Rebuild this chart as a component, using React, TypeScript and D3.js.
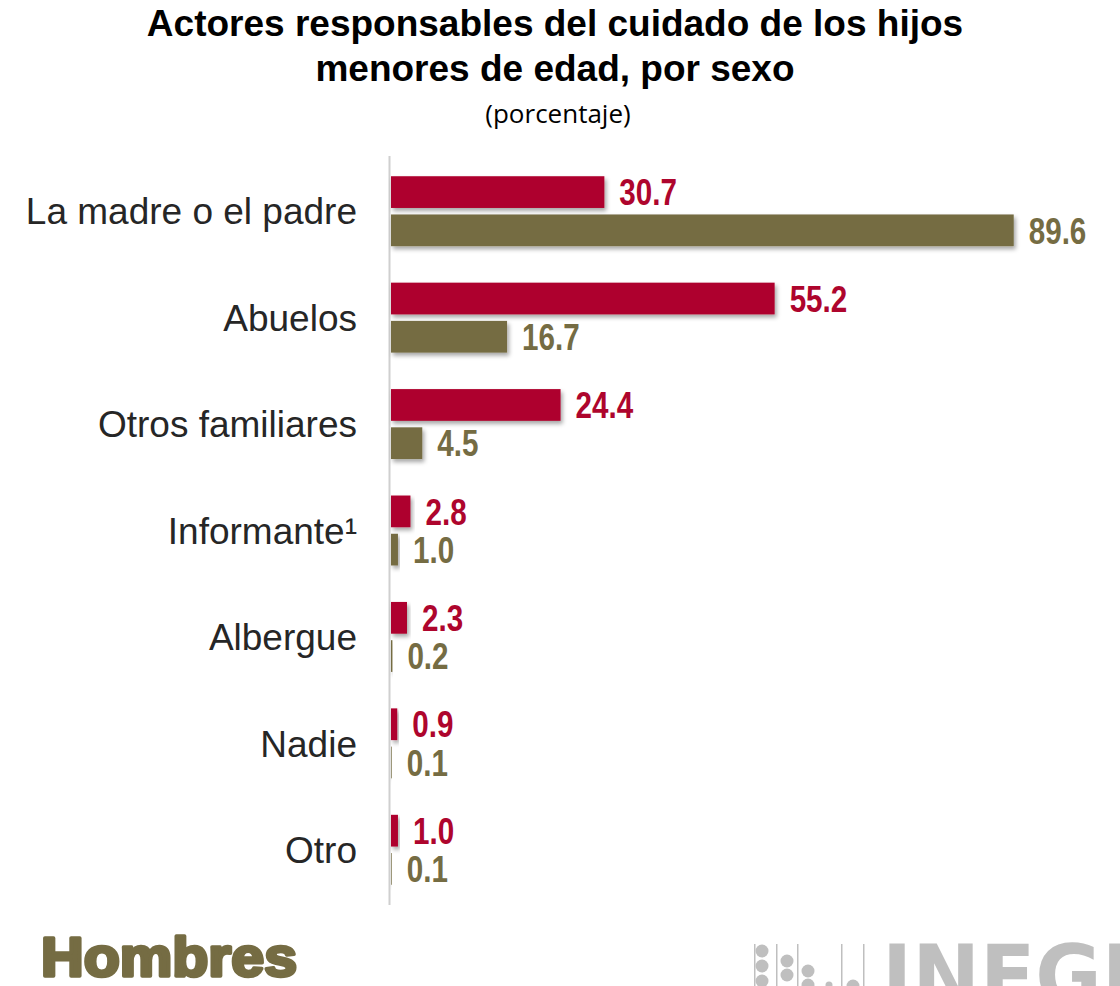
import * as d3 from "d3";

// Categorías y valores (porcentaje)
const categorias = [
  "La madre o el padre",
  "Abuelos",
  "Otros familiares",
  "Informante¹",
  "Albergue",
  "Nadie",
  "Otro",
];
const valoresRojo = [30.7, 55.2, 24.4, 2.8, 2.3, 0.9, 1.0];
const valoresOliva = [89.6, 16.7, 4.5, 1.0, 0.2, 0.1, 0.1];
const series = ["rojo", "oliva"];

const ROJO = "#ae052d";
const OLIVA = "#756c43";
const GRIS = "#bfbfbf";

const width = 1120;
const height = 986;

export default function App() {
  const y = d3
    .scaleBand<string>()
    .domain(categorias)
    .range([158, 903])
    .paddingInner(0.3427)
    .paddingOuter(0.1713);

  const ySub = d3
    .scaleBand<string>()
    .domain(series)
    .range([0, y.bandwidth()])
    .paddingInner(0.17);

  const x = d3.scaleLinear().domain([0, 100]).range([391, 1086]);

  const datos = categorias.map((c, i) => ({
    categoria: c,
    valores: [
      { serie: "rojo", valor: valoresRojo[i], color: ROJO },
      { serie: "oliva", valor: valoresOliva[i], color: OLIVA },
    ],
  }));

  const fmt = d3.format(".1f");

  return (
    <svg
      width={width}
      height={height}
      style={{ position: "absolute", left: 0, top: 0, background: "#fff" }}
    >
      <defs>
        <filter id="sombra" x="-10%" y="-30%" width="130%" height="180%">
          <feDropShadow dx="2" dy="3" stdDeviation="2" floodColor="#000" floodOpacity="0.35" />
        </filter>
      </defs>

      {/* Título */}
      <g fontFamily="'Liberation Sans', Arial, sans-serif" textAnchor="middle">
        <text x={555} y={36} fontSize={37} fontWeight="bold" fill="#000">
          Actores responsables del cuidado de los hijos
        </text>
        <text x={555} y={81} fontSize={37} fontWeight="bold" fill="#000">
          menores de edad, por sexo
        </text>
      </g>
      <text
        x={558}
        y={123}
        fontFamily="'Open Sans', sans-serif"
        fontSize={26}
        textAnchor="middle"
        fill="#000"
      >
        (porcentaje)
      </text>

      {/* Eje vertical */}
      <line x1={389.5} x2={389.5} y1={156} y2={905} stroke="#cfcfcf" strokeWidth={2} />

      {/* Etiquetas de categoría */}
      {datos.map((d) => (
        <text
          key={d.categoria}
          x={357}
          y={(y(d.categoria) ?? 0) + y.bandwidth() / 2 + 13.2}
          textAnchor="end"
          fontFamily="'Liberation Sans', Arial, sans-serif"
          fontSize={37}
          fill="#262626"
        >
          {d.categoria}
        </text>
      ))}

      {/* Barras */}
      {datos.map((d) => (
        <g key={d.categoria} transform={`translate(0,${y(d.categoria)})`}>
          {d.valores.map((v) => {
            const yy = ySub(v.serie) ?? 0;
            const w = x(v.valor) - x(0);
            return (
              <g key={v.serie}>
                <rect
                  x={x(0)}
                  y={yy}
                  width={w}
                  height={ySub.bandwidth()}
                  fill={v.color}
                  filter="url(#sombra)"
                />
                <text
                  transform={`translate(${x(v.valor) + 15},${yy + ySub.bandwidth() / 2 + 13.2}) scale(0.8,1)`}
                  fontFamily="'Liberation Sans', Arial, sans-serif"
                  fontWeight="bold"
                  fontSize={37}
                  fill={v.color}
                >
                  {fmt(v.valor)}
                </text>
              </g>
            );
          })}
        </g>
      ))}

      {/* Rótulo del panel */}
      <text
        x={41}
        y={976}
        fontFamily="'Liberation Sans', Arial, sans-serif"
        fontWeight="bold"
        fontSize={55}
        fill={OLIVA}
        stroke={OLIVA}
        strokeWidth={3.5}
        strokeLinejoin="round"
        textLength={256}
        lengthAdjust="spacingAndGlyphs"
      >
        Hombres
      </text>

      {/* Logotipo INEGI (recortado) */}
      <g fill={GRIS} stroke="none">
        {[754, 776, 797, 841, 863].map((lx) => (
          <rect key={lx} x={lx} y={944} width={1.5} height={50} />
        ))}
        <circle cx={762} cy={951} r={6.5} />
        <circle cx={762} cy={966} r={6.5} />
        <circle cx={762} cy={981} r={6.5} />
        <circle cx={787} cy={961} r={6.5} />
        <circle cx={787} cy={975} r={6.5} />
        <circle cx={808} cy={971} r={6.5} />
        <circle cx={808} cy={985} r={6.5} />
        <circle cx={829} cy={985} r={3.5} />
        <circle cx={853} cy={986} r={6.5} />
        <text
          x={882}
          y={1006}
          fontFamily="'DejaVu Sans', sans-serif"
          fontWeight="bold"
          fontSize={86}
          textLength={250}
          lengthAdjust="spacingAndGlyphs"
        >
          INEGI
        </text>
      </g>
    </svg>
  );
}
